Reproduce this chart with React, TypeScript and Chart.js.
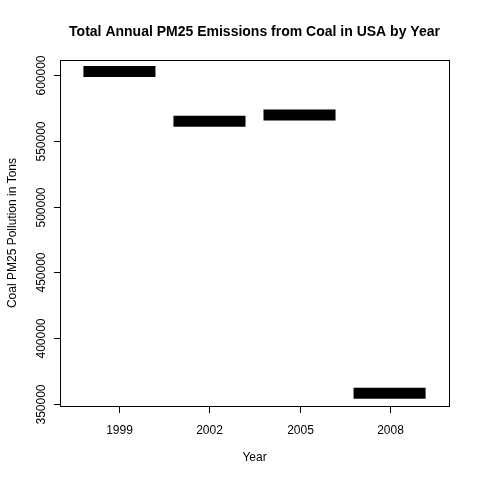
import React, { useRef, useEffect } from "react";
import { Chart, registerables } from "chart.js";

Chart.register(...registerables);

const years = ["1999", "2002", "2005", "2008"];
const emissions = [602600, 564900, 569700, 358100];
const yTicks = [350000, 400000, 450000, 500000, 550000, 600000];

const FONT = "'Liberation Sans', Arial, sans-serif";

const rAxes = {
  id: "rAxes",
  afterDraw(chart: any) {
    const { ctx, chartArea: a, scales } = chart;
    const x = scales.x;
    const y = scales.y;
    ctx.save();
    ctx.strokeStyle = "#000";
    ctx.lineWidth = 1;
    ctx.strokeRect(a.left + 0.5, a.top + 0.5, a.right - a.left, a.bottom - a.top);
    ctx.fillStyle = "#000";
    ctx.font = `12px ${FONT}`;
    // y axis
    yTicks.forEach((v) => {
      const py = Math.round(y.getPixelForValue(v)) + 0.5;
      ctx.beginPath();
      ctx.moveTo(a.left, py);
      ctx.lineTo(a.left - 6, py);
      ctx.stroke();
      ctx.save();
      ctx.translate(a.left - 18, py);
      ctx.rotate(-Math.PI / 2);
      ctx.textAlign = "center";
      ctx.textBaseline = "middle";
      ctx.fillText(String(v), 0, 0);
      ctx.restore();
    });
    // x axis
    years.forEach((yr, i) => {
      const px = Math.round(x.getPixelForValue(i + 1)) + 0.5;
      ctx.beginPath();
      ctx.moveTo(px, a.bottom);
      ctx.lineTo(px, a.bottom + 7);
      ctx.stroke();
      ctx.textAlign = "center";
      ctx.textBaseline = "middle";
      ctx.fillText(yr, px, a.bottom + 25);
    });
    ctx.textAlign = "center";
    ctx.textBaseline = "middle";
    ctx.fillText("Year", (a.left + a.right) / 2, a.bottom + 52);
    ctx.save();
    ctx.translate(13, (a.top + a.bottom) / 2);
    ctx.rotate(-Math.PI / 2);
    ctx.fillText("Coal PM25 Pollution in Tons", 0, 0);
    ctx.restore();
    ctx.font = `bold 14px ${FONT}`;
    ctx.fillText("Total Annual PM25 Emissions from Coal in USA by Year", (a.left + a.right) / 2, 32);
    ctx.restore();
  },
};

export default function App() {
  const ref = useRef<HTMLCanvasElement | null>(null);

  useEffect(() => {
    if (!ref.current) return;
    document.body.style.margin = "0";
    const chart = new Chart(ref.current, {
      type: "line",
      data: {
        datasets: emissions.map((v, i) => ({
          data: [
            { x: i + 1 - 0.4, y: v },
            { x: i + 1 + 0.4, y: v },
          ],
          borderColor: "#000",
          borderWidth: 11,
          borderCapStyle: "butt" as const,
          pointRadius: 0,
          fill: false,
        })),
      },
      plugins: [rAxes],
      options: {
        responsive: false,
        animation: false,
        events: [],
        layout: { padding: { left: 60, top: 60, right: 31, bottom: 74 } },
        plugins: { legend: { display: false }, tooltip: { enabled: false } },
        scales: {
          x: { type: "linear", min: 0.34, max: 4.66, display: false },
          y: { type: "linear", min: 348480, max: 611400, display: false },
        },
      },
    });
    return () => chart.destroy();
  }, []);

  return <canvas ref={ref} width={480} height={480} />;
}
